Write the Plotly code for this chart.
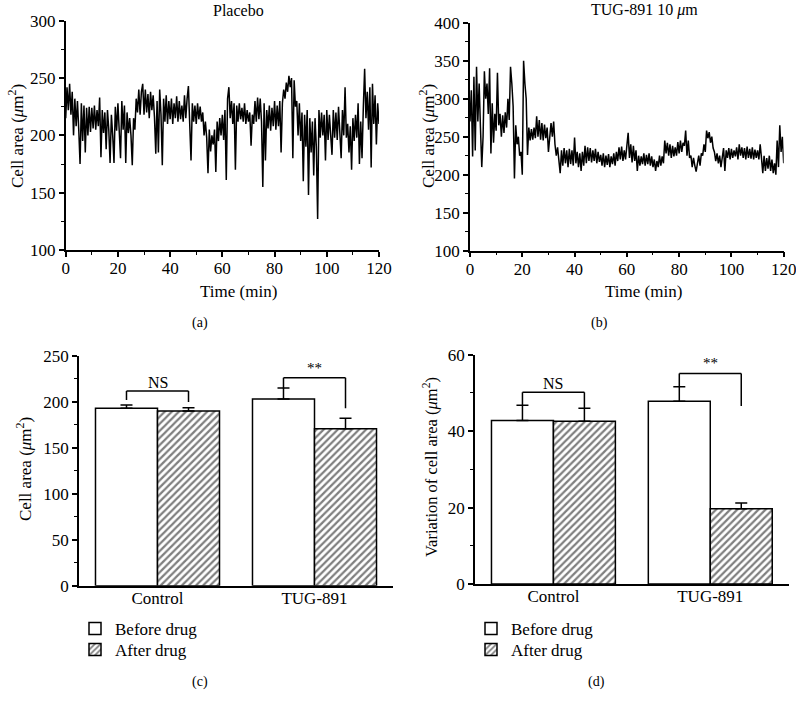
import plotly.graph_objects as go

# ---------------- data ----------------
sample_step_min = 0.5

placebo_area = [
    215, 242, 222, 245, 218, 238, 200, 232, 208, 230,
    205, 175, 228, 195, 226, 185, 224, 200, 225, 203,
    224, 206, 226, 205, 222, 208, 233, 181, 222, 202,
    220, 188, 222, 205, 176, 218, 200, 176, 225, 204,
    228, 200, 180, 230, 205, 226, 176, 220, 202, 215,
    200, 174, 215, 205, 232, 220, 240, 218, 238, 245,
    218, 240, 220, 236, 215, 238, 222, 235, 216, 184,
    230, 185, 240, 218, 174, 232, 212, 235, 210, 230,
    214, 232, 210, 228, 215, 234, 212, 230, 214, 226,
    212, 235, 215, 232, 243, 210, 178, 228, 212, 226,
    210, 228, 214, 225, 212, 220, 200, 212, 198, 167,
    205, 186, 200, 192, 205, 168, 212, 195, 215, 200,
    218, 196, 222, 161, 232, 242, 215, 230, 210, 228,
    170, 226, 212, 228, 214, 224, 212, 228, 210, 222,
    212, 220, 191, 218, 210, 230, 212, 233, 214, 232,
    212, 155, 228, 178, 222, 206, 226, 204, 224, 208,
    230, 205, 226, 208, 230, 185, 228, 240, 232, 246,
    238, 252, 242, 250, 180, 248, 225, 230, 200, 228,
    195, 220, 160, 218, 190, 222, 148, 215, 185, 212,
    165, 215, 190, 127, 222, 198, 220, 200, 218, 178,
    222, 196, 218, 200, 183, 222, 198, 220, 196, 225,
    195, 180, 222, 200, 242, 198, 210, 185, 208, 170,
    215, 195, 218, 198, 228, 175, 212, 180, 225, 258,
    215, 238, 205, 242, 172, 245, 210, 235, 192, 228,
    210,
]

tug_area = [
    270, 311, 224, 329, 232, 342, 270, 320, 262, 210,
    250, 336, 300, 320, 280, 340, 228, 294, 242, 280,
    258, 334, 265, 280, 250, 278, 255, 282, 262, 300,
    272, 342, 320, 290, 195, 265, 240, 250, 225, 230,
    200, 350, 320, 300, 226, 262, 245, 260, 246, 262,
    248, 277, 250, 272, 246, 268, 245, 266, 248, 262,
    230, 245, 268, 250, 270, 240, 225, 236, 220, 202,
    232, 212, 235, 215, 232, 210, 234, 214, 232, 212,
    249, 215, 230, 210, 228, 205, 230, 212, 238, 215,
    236, 218, 235, 216, 232, 218, 234, 215, 230, 217,
    226, 212, 228, 210, 225, 213, 227, 210, 224, 214,
    228, 212, 230, 218, 236, 220, 237, 218, 232, 220,
    238, 255, 222, 240, 216, 238, 218, 232, 205, 225,
    212, 224, 214, 228, 212, 226, 214, 228, 212, 224,
    210, 220, 205, 218, 210, 225, 212, 224, 215, 245,
    228, 242, 225, 240, 222, 238, 224, 236, 225, 243,
    228, 245, 230, 242, 238, 258, 225, 245, 222, 225,
    210, 222, 212, 204, 215, 225, 212, 228, 225, 240,
    230, 258, 248, 256, 242, 250, 235, 230, 218, 228,
    215, 225, 210, 224, 235, 205, 232, 222, 235, 220,
    234, 222, 232, 224, 236, 220, 240, 225, 236, 222,
    235, 220, 237, 222, 234, 221, 236, 220, 233, 222,
    232, 220, 240, 222, 202, 225, 205, 222, 208, 225,
    205, 220, 202, 215, 200, 245, 210, 265, 230, 250,
    215,
]

groups = ["Control", "TUG-891"]
series_names = ["Before drug", "After drug"]

area_before = [193.1, 203.2]
area_before_err = [3.6, 12.0]
area_after = [190.2, 170.9]
area_after_err = [3.5, 11.3]

var_before = [42.8, 47.8]
var_before_err = [4.0, 3.8]
var_after = [42.6, 19.7]
var_after_err = [3.4, 1.5]

sig_labels = ["NS", "**"]
area_bracket_top = [211.9, 226.4]
area_bracket_left_end = [202.0, 215.0]
area_bracket_right_end = [200.0, 193.0]
var_bracket_top = [50.2, 55.1]
var_bracket_left_end = [46.8, 51.6]
var_bracket_right_end = [46.0, 46.6]

# ---------------- figure ----------------
W, H = 796, 705
FONT = "Liberation Serif, Times New Roman, serif"
BLACK = "#000000"
BARGAP = 0.21
half_off = (1 - BARGAP) / 4.0  # centre offset of each bar within its group
TICK_FS = 17


def px(x):
    return x / W


def py(y):
    return 1 - y / H


fig = go.Figure()

# time series
fig.add_trace(go.Scatter(y=placebo_area, x0=0, dx=sample_step_min, mode="lines",
                         line=dict(color=BLACK, width=1.5), xaxis="x", yaxis="y",
                         showlegend=False))
fig.add_trace(go.Scatter(y=tug_area, x0=0, dx=sample_step_min, mode="lines",
                         line=dict(color=BLACK, width=1.5), xaxis="x2", yaxis="y2",
                         showlegend=False))

hatch = dict(shape="/", fgcolor=BLACK, bgcolor="white", size=5, solidity=0.45, fillmode="overlay")


def add_bars(before, before_err, after, after_err, xa, ya, legends):
    for name, vals, errs, pattern, leg in [
        (series_names[0], before, before_err, None, legends[0]),
        (series_names[1], after, after_err, hatch, legends[1]),
    ]:
        marker = dict(color="white", line=dict(color=BLACK, width=1.5))
        if pattern:
            marker["pattern"] = pattern
        fig.add_trace(go.Bar(
            x=groups, y=vals, name=name, marker=marker,
            error_y=dict(type="data", array=errs, arrayminus=[0] * len(errs),
                         symmetric=False, color=BLACK, thickness=1.5, width=6),
            xaxis=xa, yaxis=ya, legend=leg,
        ))


add_bars(area_before, area_before_err, area_after, area_after_err, "x3", "y3",
         ["legend", "legend2"])
add_bars(var_before, var_before_err, var_after, var_after_err, "x4", "y4",
         ["legend3", "legend4"])

shapes = []
annotations = []


def add_brackets(top, left_end, right_end, xref, yref):
    for i, lab in enumerate(sig_labels):
        xl = i - half_off
        xr = i + half_off
        line = dict(color=BLACK, width=1.5)
        shapes.append(dict(type="line", xref=xref, yref=yref, x0=xl, x1=xl,
                           y0=left_end[i], y1=top[i], line=line))
        shapes.append(dict(type="line", xref=xref, yref=yref, x0=xl, x1=xr,
                           y0=top[i], y1=top[i], line=line))
        shapes.append(dict(type="line", xref=xref, yref=yref, x0=xr, x1=xr,
                           y0=top[i], y1=right_end[i], line=line))
        annotations.append(dict(text=lab, xref=xref, yref=yref, x=i, y=top[i],
                                yanchor="bottom", xanchor="center",
                                yshift=-2 if lab == "NS" else 0,
                                showarrow=False, font=dict(size=16 if lab == "NS" else 15,
                                                           family=FONT, color=BLACK)))


add_brackets(area_bracket_top, area_bracket_left_end, area_bracket_right_end, "x3", "y3")
add_brackets(var_bracket_top, var_bracket_left_end, var_bracket_right_end, "x4", "y4")


def ann(text, x, y, size=17, angle=0):
    annotations.append(dict(text=text, xref="paper", yref="paper", x=px(x), y=py(y),
                            xanchor="center", yanchor="middle", showarrow=False,
                            textangle=angle, font=dict(size=size, family=FONT, color=BLACK)))


area_title = "Cell area (<i>μ</i>m<sup>2</sup>)"
ann("Placebo", 238, 10, 16)
ann("TUG-891 10 <i>μ</i>m", 644, 10, 16)
ann("Time (min)", 238, 291, 17)
ann("Time (min)", 643, 291, 17)
ann(area_title, 16, 136, 17, -90)
ann(area_title, 427, 136, 17, -90)
ann(area_title, 24, 469, 17, -90)
ann("Variation of cell area (<i>μ</i>m<sup>2</sup>)", 431, 467, 16.5, -90)
ann("(a)", 200, 323, 14)
ann("(b)", 599, 323, 14)
ann("(c)", 200, 682, 14)
ann("(d)", 596, 682, 14)

axis_common = dict(showline=True, linecolor=BLACK, linewidth=1.5, showgrid=False,
                   zeroline=False, ticks="outside", tickcolor=BLACK, tickwidth=1.5,
                   ticklen=5, automargin=False, ticklabeloverflow="allow",
                   tickfont=dict(size=TICK_FS, family=FONT, color=BLACK))
minor_common = dict(ticks="outside", ticklen=3, tickcolor=BLACK, tickwidth=1.2)
cat_axis = dict(showline=True, linecolor=BLACK, linewidth=1.5, showgrid=False, zeroline=False,
                ticks="", ticklen=0, automargin=False, ticklabelstandoff=-4,
                tickfont=dict(size=TICK_FS, family=FONT, color=BLACK))

legend_common = dict(xanchor="left", yanchor="middle", bgcolor="rgba(0,0,0,0)",
                     font=dict(size=17, family=FONT, color=BLACK),
                     tracegroupgap=0, traceorder="normal", itemwidth=30, borderwidth=0)

fig.update_layout(
    template="none",
    width=W, height=H,
    margin=dict(l=0, r=0, t=0, b=0, pad=0, autoexpand=False),
    paper_bgcolor="white", plot_bgcolor="white",
    hovermode=False,
    barmode="group", bargap=BARGAP, bargroupgap=0,
    font=dict(family=FONT, color=BLACK, size=17),
    xaxis=dict(domain=[px(65.7), px(379)], range=[0, 120], dtick=20, anchor="y",
               ticklabelstandoff=-3,
               minor=dict(dtick=10, **minor_common), **axis_common),
    yaxis=dict(domain=[py(250), py(20.7)], range=[100, 300], dtick=50, anchor="x",
               minor=dict(dtick=25, **minor_common), **axis_common),
    xaxis2=dict(domain=[px(470), px(783.7)], range=[0, 120], dtick=20, anchor="y2",
                ticklabelstandoff=-3,
                minor=dict(dtick=10, **minor_common), **axis_common),
    yaxis2=dict(domain=[py(250.7), py(22.7)], range=[100, 400], dtick=50, anchor="x2",
                minor=dict(dtick=25, **minor_common), **axis_common),
    xaxis3=dict(domain=[px(79), px(393)], range=[-0.5, 1.5], type="category", anchor="y3",
                **cat_axis),
    yaxis3=dict(domain=[py(585.7), py(356)], range=[0, 250], dtick=50, anchor="x3",
                minor=dict(dtick=25, **minor_common), **axis_common),
    xaxis4=dict(domain=[px(475), px(788.7)], range=[-0.5, 1.5], type="category", anchor="y4",
                **cat_axis),
    yaxis4=dict(domain=[py(584), py(354.7)], range=[0, 60], dtick=20, anchor="x4",
                minor=dict(dtick=10, **minor_common), **axis_common),
    legend=dict(x=px(75), y=py(629), **legend_common),
    legend2=dict(x=px(75), y=py(650), **legend_common),
    legend3=dict(x=px(471), y=py(629), **legend_common),
    legend4=dict(x=px(471), y=py(650), **legend_common),
    shapes=shapes,
    annotations=annotations,
)

fig.write_html(
    "out.html",
    config={"displayModeBar": False, "responsive": False},
    post_script="document.body.style.margin='0';document.body.style.padding='0';"
                "document.documentElement.style.overflow='hidden';",
)
